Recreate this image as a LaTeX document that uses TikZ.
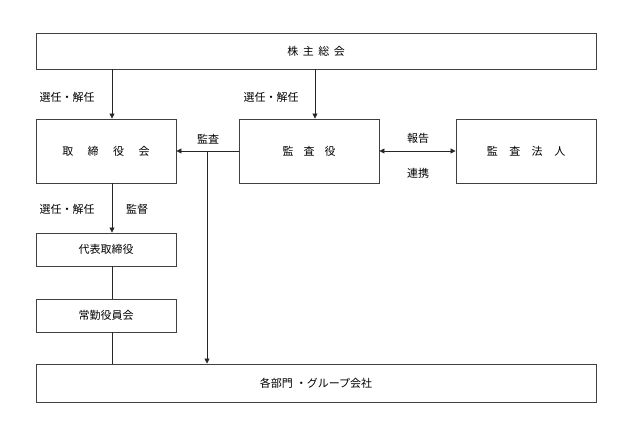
\documentclass[tikz,border=0pt]{standalone}
\usepackage{fontspec}
\setmainfont{Noto Sans CJK JP}
\usetikzlibrary{arrows.meta}
\begin{document}
\begin{tikzpicture}[x=1pt,y=1pt,
  box/.style={draw=black!75, line width=0.9pt, inner sep=0pt, font=\fontsize{11}{13}\selectfont},
  lab/.style={inner sep=0pt, font=\fontsize{11}{13}\selectfont},
  conn/.style={draw=black!85, line width=0.8pt},
  arr/.style={conn, -{Triangle[length=5pt,width=5pt]}},
  darr/.style={conn, {Triangle[length=5pt,width=5pt]}-{Triangle[length=5pt,width=5pt]}}]
\useasboundingbox (0,0) rectangle (632,436);
% boxes
\node[box, minimum width=560pt, minimum height=36pt] (top) at (316,385) {株\hspace{4.5pt}主\hspace{4.5pt}総\hspace{4.5pt}会};
\node[box, minimum width=140pt, minimum height=64pt] (tori) at (106,285) {取\hspace{14.5pt}締\hspace{14.5pt}役\hspace{14.5pt}会};
\node[box, minimum width=140pt, minimum height=64pt] (kansa) at (309,285) {監\hspace{10pt}査\hspace{10pt}役};
\node[box, minimum width=140pt, minimum height=64pt] (hojin) at (526,285) {監\hspace{11.5pt}査\hspace{11.5pt}法\hspace{11.5pt}人};
\node[box, minimum width=140pt, minimum height=33pt] (daihyo) at (106,186.5) {代表取締役};
\node[box, minimum width=140pt, minimum height=33pt] (jokin) at (106,120.5) {常勤役員会};
\node[box, minimum width=560pt, minimum height=38pt] (bottom) at (316,53) {各部門\hspace{3pt}・グループ会社};
% helper coordinates
\coordinate (xa) at (112,0);
\coordinate (xb) at (315,0);
\coordinate (xc) at (207,0);
\coordinate (br) at (kansa.west -| xc);
% connectors
\draw[arr] (top.south -| xa) -- (tori.north -| xa);
\draw[arr] (top.south -| xb) -- (kansa.north -| xb);
\draw[arr] (kansa.west) -- (tori.east);
\draw[arr] (br) -- (bottom.north -| xc);
\draw[darr] (kansa.east) -- (hojin.west);
\draw[arr] (tori.south -| xa) -- (daihyo.north -| xa);
\draw[conn] (daihyo.south -| xa) -- (jokin.north -| xa);
\draw[conn] (jokin.south -| xa) -- (bottom.north -| xa);
% labels
\node[lab] (l1) at (67,339) {選任・解任};
\node[lab] (l2) at (271,339) {選任・解任};
\node[lab] (l3) at (208,297) {監査};
\node[lab] (l4) at (418,298) {報告};
\node[lab] (l5) at (418,263) {連携};
\node[lab] (l6) at (67,227) {選任・解任};
\node[lab] (l7) at (137,227) {監督};
\end{tikzpicture}
\end{document}
